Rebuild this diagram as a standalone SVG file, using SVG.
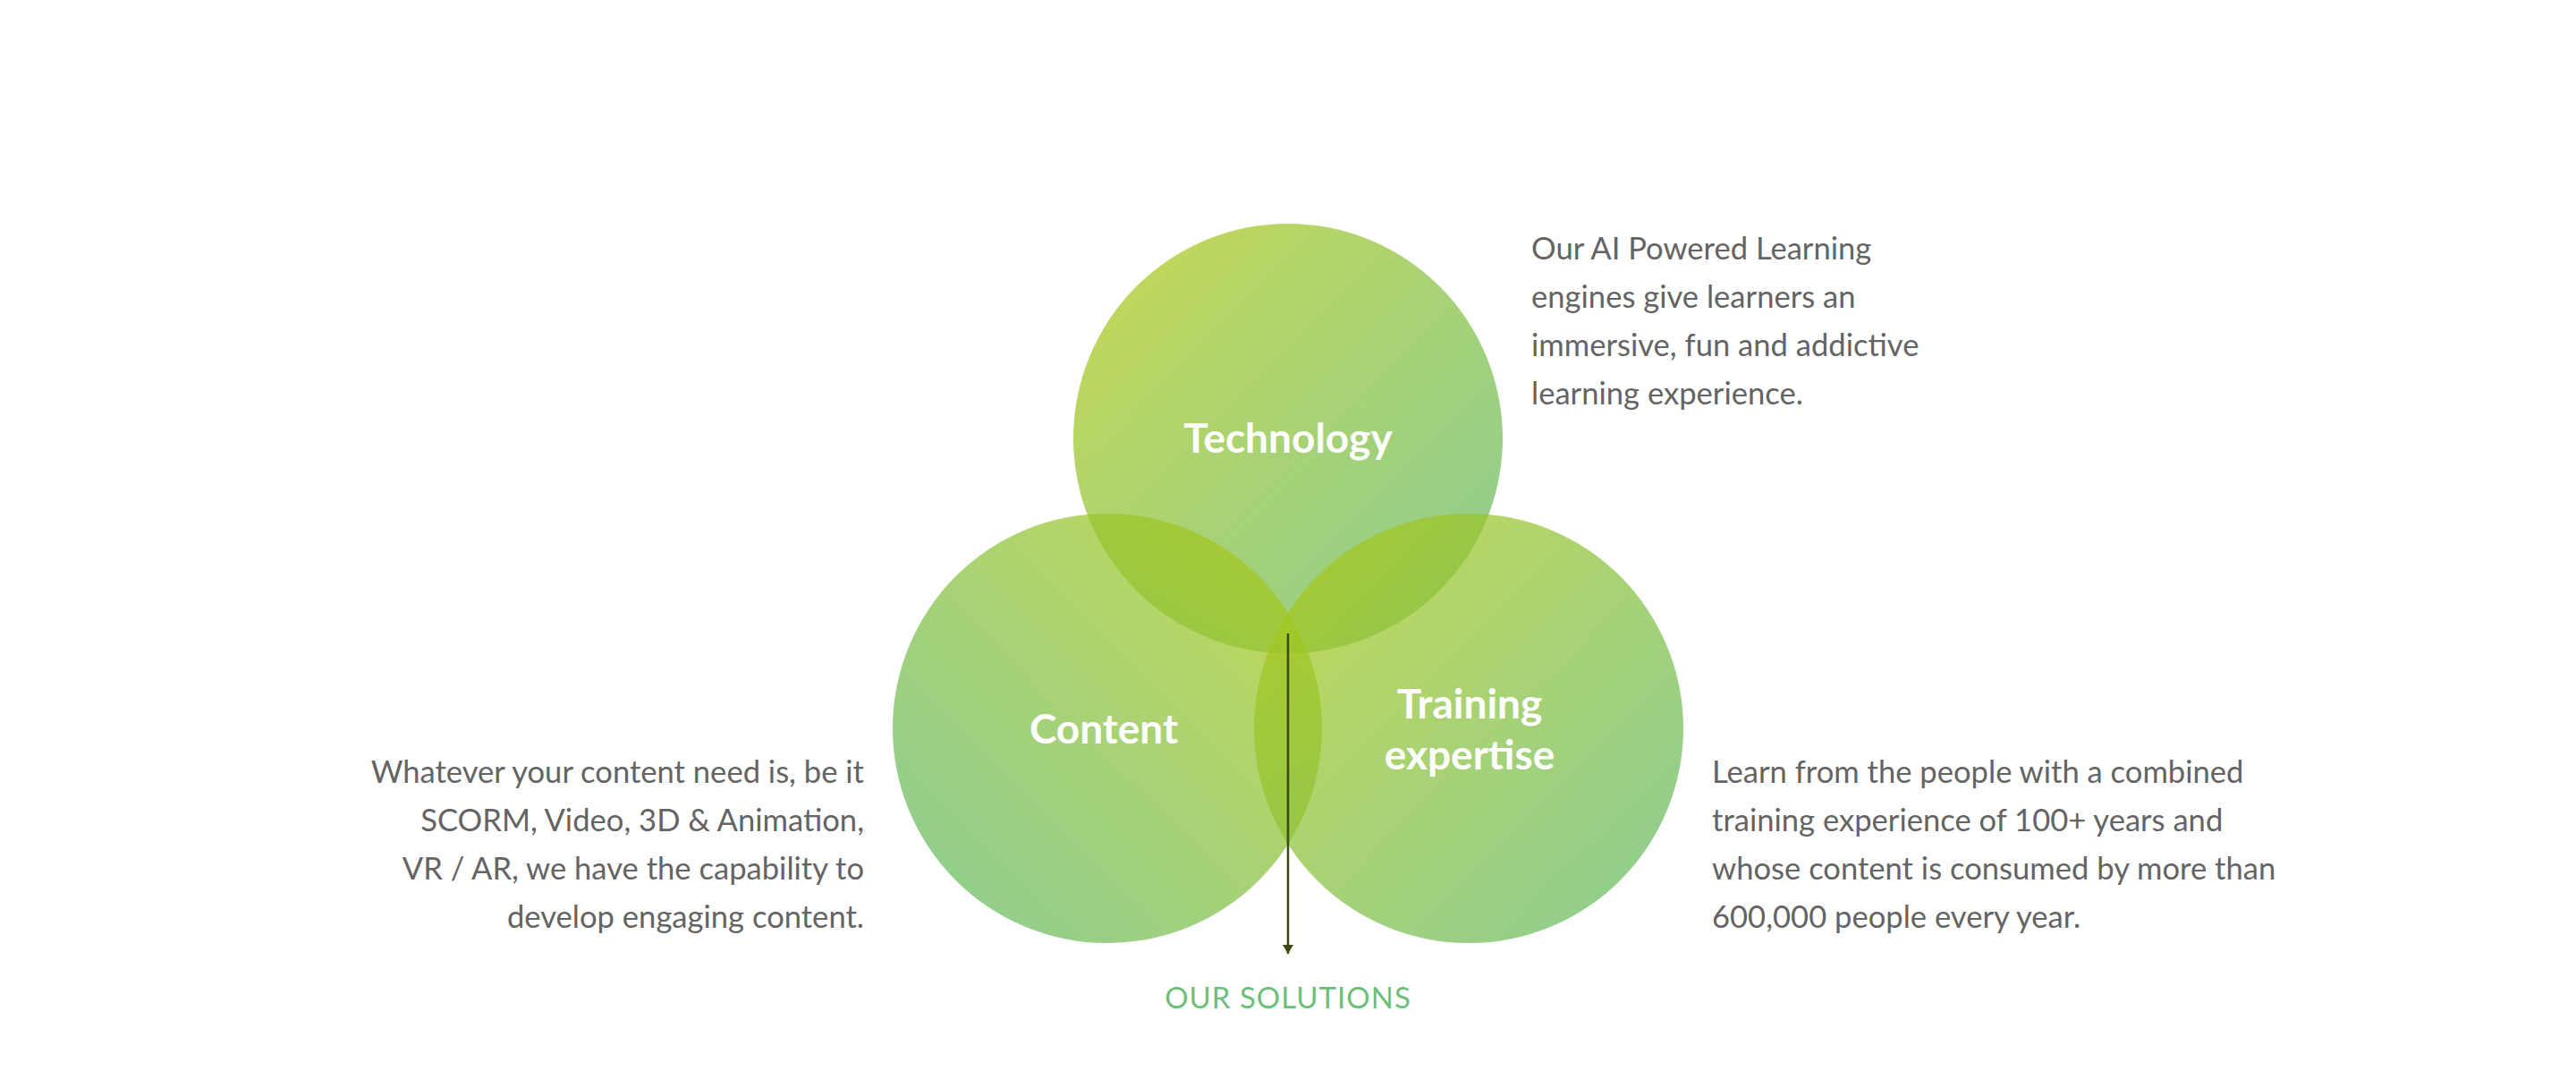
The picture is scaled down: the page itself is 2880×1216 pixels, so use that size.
<svg xmlns="http://www.w3.org/2000/svg" width="2880" height="1216" viewBox="0 0 2880 1216">
  <defs>
    <!-- yellow-green to green, light corner first -->
    <linearGradient id="gTL" x1="0" y1="0" x2="1" y2="1">
      <stop offset="0" stop-color="#b0c911"/>
      <stop offset="1" stop-color="#5eb96d"/>
    </linearGradient>
    <linearGradient id="gTR" x1="1" y1="0" x2="0" y2="1">
      <stop offset="0" stop-color="#b0c911"/>
      <stop offset="1" stop-color="#5eb96d"/>
    </linearGradient>
    <marker id="arrowHead" viewBox="0 0 10 12" refX="10" refY="6" markerWidth="10" markerHeight="12" markerUnits="userSpaceOnUse" orient="auto">
      <path d="M0,0 L10,6 L0,12 Z" fill="#3b4814"/>
    </marker>
  </defs>
  <style>
    .bubble { fill-opacity: 0.72; }
    .label { font-family: Lato, "Open Sans", sans-serif; font-weight: 700; font-size: 46px; fill: #ffffff; text-anchor: middle; }
    .desc { font-family: Lato, "Open Sans", sans-serif; font-size: 34.6px; fill: #646464; }
    .title { font-family: Lato, "Open Sans", sans-serif; font-size: 33px; fill: #6dbf7a; text-anchor: middle; letter-spacing: 1px; }
  </style>
  <rect width="2880" height="1216" fill="#ffffff"/>

  <g id="node-technology">
    <circle class="bubble" cx="1440" cy="490" r="240" fill="url(#gTL)"/>
  </g>
  <g id="node-content">
    <circle class="bubble" cx="1238" cy="814" r="240" fill="url(#gTR)"/>
  </g>
  <g id="node-training">
    <circle class="bubble" cx="1642" cy="814" r="240" fill="url(#gTL)"/>
  </g>

  <g id="labels">
    <text class="label" x="1440" y="506">Technology</text>
    <text class="label" x="1234" y="831">Content</text>
    <text class="label" x="1643" y="803">Training</text>
    <text class="label" x="1643" y="860">expertise</text>
  </g>

  <g id="connectors">
    <line x1="1440" y1="708" x2="1440" y2="1066" stroke="#3b4814" stroke-width="2.5" marker-end="url(#arrowHead)"/>
  </g>

  <g id="text-technology">
    <text class="desc" x="1712" y="290">Our AI Powered Learning</text>
    <text class="desc" x="1712" y="344">engines give learners an</text>
    <text class="desc" x="1712" y="398">immersive, fun and addictive</text>
    <text class="desc" x="1712" y="452">learning experience.</text>
  </g>
  <g id="text-content" text-anchor="end">
    <text class="desc" x="966" y="875">Whatever your content need is, be it</text>
    <text class="desc" x="966" y="929">SCORM, Video, 3D &amp; Animation,</text>
    <text class="desc" x="966" y="983">VR / AR, we have the capability to</text>
    <text class="desc" x="966" y="1037">develop engaging content.</text>
  </g>
  <g id="text-training">
    <text class="desc" x="1914" y="875">Learn from the people with a combined</text>
    <text class="desc" x="1914" y="929">training experience of 100+ years and</text>
    <text class="desc" x="1914" y="983">whose content is consumed by more than</text>
    <text class="desc" x="1914" y="1037">600,000 people every year.</text>
  </g>

  <g id="title">
    <text class="title" x="1440" y="1127">OUR SOLUTIONS</text>
  </g>
</svg>
